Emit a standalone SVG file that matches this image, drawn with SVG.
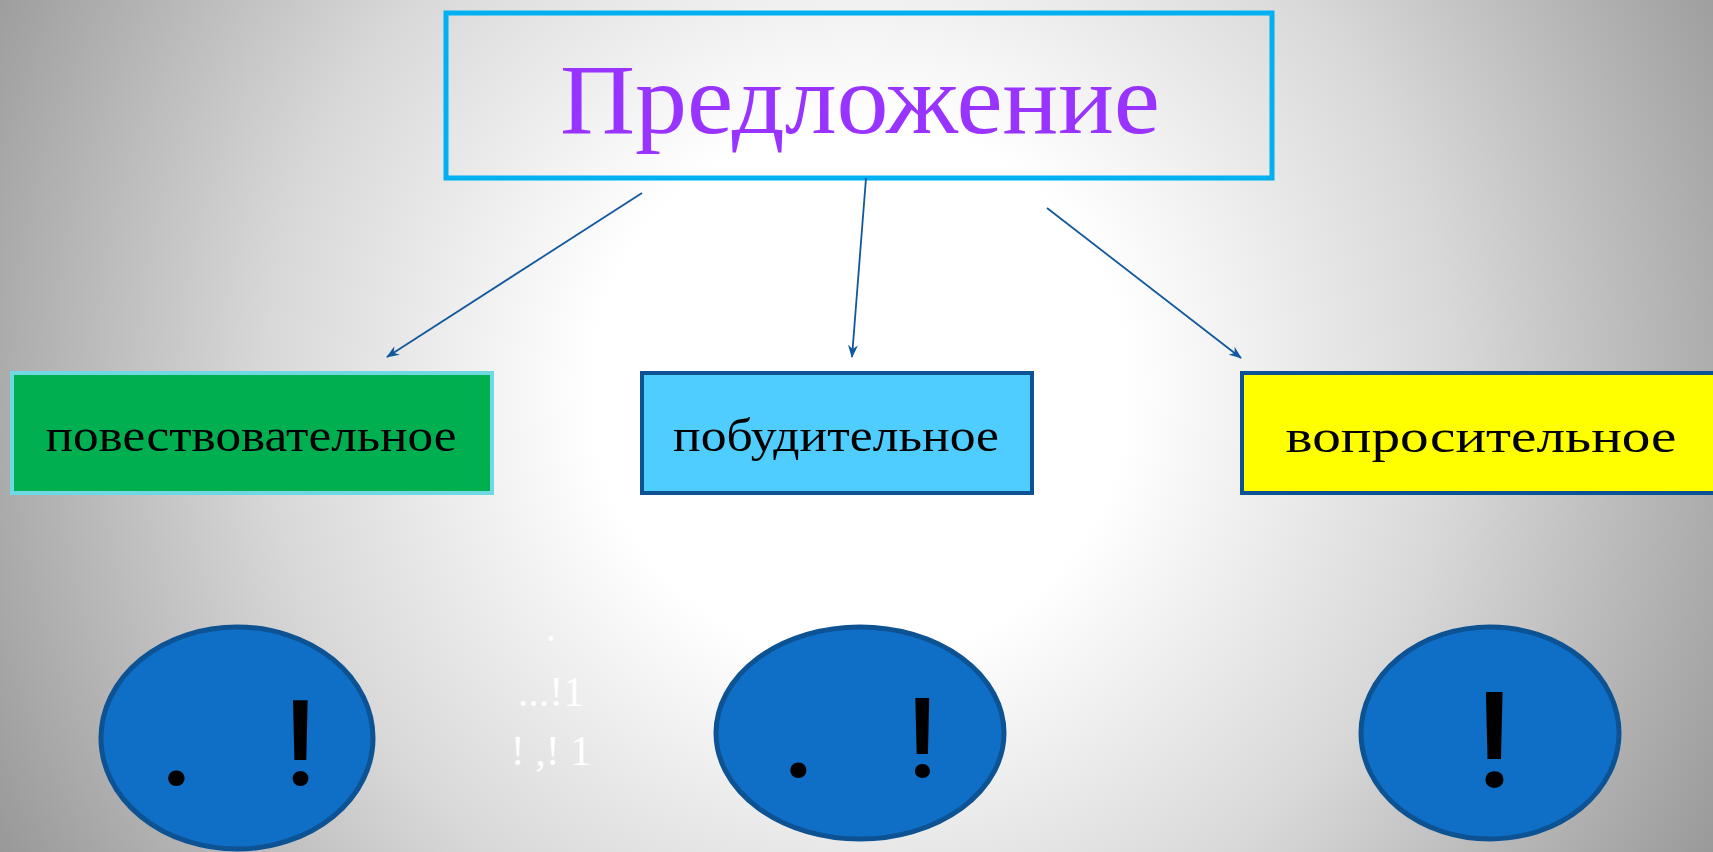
<svg xmlns="http://www.w3.org/2000/svg" width="1713" height="852" viewBox="0 0 1713 852">
  <defs>
    <radialGradient id="bg" gradientUnits="userSpaceOnUse" cx="860" cy="390" r="990">
      <stop offset="0" stop-color="#ffffff"/>
      <stop offset="0.27" stop-color="#ffffff"/>
      <stop offset="0.6" stop-color="#d8d8d8"/>
      <stop offset="1" stop-color="#969696"/>
    </radialGradient>
    <marker id="arr" markerUnits="userSpaceOnUse" markerWidth="14" markerHeight="10" refX="12" refY="5" orient="auto">
      <path d="M0,0 L13,5 L0,10 L4,5 z" fill="#11589f"/>
    </marker>
    <style>
      .conn { stroke:#11589f; stroke-width:1.8; fill:none; marker-end:url(#arr); }
      .lbl { font-family:"Liberation Serif","DejaVu Serif",serif; fill:#000; text-anchor:middle; }
      .ell { fill:#0f6fc6; stroke:#0d5394; stroke-width:5; }
      .punct { font-family:Roboto,"Liberation Sans",sans-serif; font-weight:500; fill:#000; text-anchor:middle; }
      .note { font-family:"Liberation Serif","DejaVu Serif",serif; fill:#ffffff; font-size:42px; text-anchor:middle; }
    </style>
  </defs>
  <rect x="0" y="0" width="1713" height="852" fill="url(#bg)"/>

  <g id="node-title">
    <rect x="446" y="13" width="826" height="165" fill="none" stroke="#00b0f0" stroke-width="5"/>
    <text x="860" y="133" font-family="Liberation Serif,DejaVu Serif,serif" font-size="100" fill="#9933ff" text-anchor="middle" textLength="600" lengthAdjust="spacingAndGlyphs">Предложение</text>
  </g>

  <g id="connectors">
    <line class="conn" x1="642" y1="193" x2="387" y2="357"/>
    <line class="conn" x1="866" y1="178" x2="852" y2="357"/>
    <line class="conn" x1="1047" y1="208" x2="1241" y2="358"/>
  </g>

  <g id="node-narrative">
    <rect x="12" y="373" width="480" height="120" fill="#00b050" stroke="#6fd9e3" stroke-width="4"/>
    <text class="lbl" x="251" y="451" font-size="46" textLength="411" lengthAdjust="spacingAndGlyphs">повествовательное</text>
  </g>

  <g id="node-imperative">
    <rect x="642" y="373" width="390" height="120" fill="#4fcdff" stroke="#0d5394" stroke-width="4"/>
    <text class="lbl" x="836" y="451" font-size="46" textLength="326" lengthAdjust="spacingAndGlyphs">побудительное</text>
  </g>

  <g id="node-interrogative">
    <rect x="1242" y="373" width="480" height="120" fill="#ffff00" stroke="#0d5394" stroke-width="4"/>
    <text class="lbl" x="1481" y="452" font-size="46" textLength="391" lengthAdjust="spacingAndGlyphs">вопросительное</text>
  </g>

  <g id="node-marks-1">
    <ellipse class="ell" cx="237" cy="738" rx="136" ry="111"/>
    <text class="punct" x="177" y="785" font-size="120">.</text>
    <text class="punct" x="300" y="785" font-size="118">!</text>
  </g>

  <g id="node-marks-2">
    <ellipse class="ell" cx="860" cy="733" rx="144" ry="106"/>
    <text class="punct" x="799" y="777" font-size="118">.</text>
    <text class="punct" x="922" y="777" font-size="112">!</text>
  </g>

  <g id="node-marks-3">
    <ellipse class="ell" cx="1490" cy="733" rx="129" ry="106"/>
    <text class="punct" x="1494" y="787" font-size="134">!</text>
  </g>

  <g id="note">
    <text class="note" x="551" y="641">.</text>
    <text class="note" x="551" y="706">...!1</text>
    <text class="note" x="551" y="765">! ,! 1</text>
  </g>
</svg>
